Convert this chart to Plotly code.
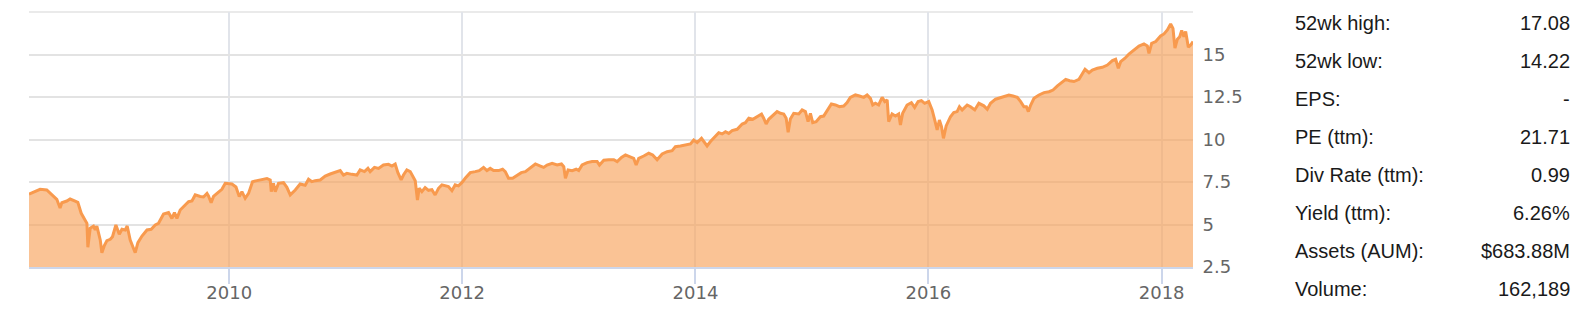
import datetime as dt
import plotly.graph_objects as go

# ---- data (decimal year, price) ----
years = [
    2008.283, 2008.378, 2008.435, 2008.478, 2008.521, 2008.549, 2008.564, 2008.607, 2008.635, 2008.678,
    2008.701, 2008.730, 2008.764, 2008.779, 2008.787, 2008.807, 2008.835, 2008.850, 2008.864, 2008.893,
    2008.907, 2008.927, 2008.950, 2008.979, 2008.998, 2009.027, 2009.056, 2009.079, 2009.107, 2009.124,
    2009.150, 2009.170, 2009.193, 2009.216, 2009.251, 2009.294, 2009.330, 2009.365, 2009.393, 2009.436,
    2009.479, 2009.508, 2009.530, 2009.551, 2009.579, 2009.622, 2009.651, 2009.680, 2009.708, 2009.751,
    2009.779, 2009.809, 2009.822, 2009.845, 2009.865, 2009.903, 2009.937, 2009.966,
    2010.023, 2010.058, 2010.086, 2010.109, 2010.137, 2010.166, 2010.200, 2010.238, 2010.281, 2010.324,
    2010.352, 2010.361, 2010.380, 2010.395, 2010.423, 2010.466, 2010.495, 2010.524, 2010.567, 2010.609,
    2010.652, 2010.681, 2010.710, 2010.738, 2010.781, 2010.824, 2010.867, 2010.910, 2010.953, 2010.981,
    2011.010, 2011.053, 2011.096, 2011.124, 2011.161, 2011.191, 2011.210, 2011.247, 2011.282, 2011.324,
    2011.367, 2011.397, 2011.425, 2011.448, 2011.476, 2011.496, 2011.525, 2011.554, 2011.597,
    2011.616, 2011.631, 2011.654, 2011.682, 2011.711, 2011.740, 2011.768, 2011.797, 2011.826, 2011.854,
    2011.882, 2011.912, 2011.940, 2011.968, 2011.997, 2012.026, 2012.069, 2012.112, 2012.146, 2012.183,
    2012.212, 2012.240, 2012.269, 2012.312, 2012.346, 2012.369, 2012.397, 2012.432, 2012.470, 2012.506,
    2012.541, 2012.584, 2012.627, 2012.670, 2012.698, 2012.727, 2012.770, 2012.813, 2012.850, 2012.870,
    2012.884, 2012.907, 2012.942, 2012.976, 2012.998, 2013.027, 2013.070, 2013.113, 2013.156, 2013.176,
    2013.213,
    2013.256, 2013.299, 2013.328, 2013.365, 2013.399, 2013.442, 2013.470, 2013.491, 2013.513, 2013.556,
    2013.599, 2013.633, 2013.671, 2013.714, 2013.757, 2013.800, 2013.828, 2013.871, 2013.914, 2013.957,
    2013.985, 2014.015, 2014.052, 2014.071, 2014.100, 2014.129, 2014.166, 2014.200, 2014.229, 2014.258,
    2014.286, 2014.315, 2014.358, 2014.401, 2014.429, 2014.458, 2014.492, 2014.530, 2014.567, 2014.586,
    2014.607, 2014.629, 2014.658, 2014.701, 2014.730, 2014.758, 2014.779, 2014.796, 2014.815, 2014.844,
    2014.887, 2014.916, 2014.944, 2014.967, 2014.987, 2015.007, 2015.036, 2015.073, 2015.101, 2015.131,
    2015.167, 2015.202, 2015.236, 2015.273, 2015.302, 2015.330, 2015.373, 2015.408, 2015.445, 2015.474,
    2015.502, 2015.522, 2015.545, 2015.573, 2015.603, 2015.625, 2015.646, 2015.659, 2015.688, 2015.717,
    2015.745, 2015.760, 2015.779, 2015.817, 2015.854, 2015.882, 2015.912, 2015.940, 2015.968, 2016.003,
    2016.032, 2016.054, 2016.075, 2016.094, 2016.112, 2016.129, 2016.152, 2016.189, 2016.217, 2016.246,
    2016.266, 2016.289, 2016.332, 2016.361, 2016.397, 2016.432, 2016.475,
    2016.504, 2016.532, 2016.575, 2016.618, 2016.655, 2016.689, 2016.724, 2016.761, 2016.790, 2016.818,
    2016.839, 2016.856, 2016.876, 2016.904, 2016.947, 2016.990, 2017.033, 2017.067, 2017.105, 2017.142,
    2017.176, 2017.210, 2017.247, 2017.290, 2017.319, 2017.342, 2017.376, 2017.405, 2017.448, 2017.491,
    2017.534, 2017.577, 2017.605, 2017.628, 2017.648, 2017.685, 2017.719, 2017.762, 2017.805, 2017.848,
    2017.877, 2017.891, 2017.914, 2017.949, 2017.991, 2018.020, 2018.049, 2018.077, 2018.097, 2018.114,
    2018.135, 2018.155, 2018.172, 2018.191, 2018.206, 2018.229, 2018.249, 2018.269,
]

prices = [
    6.79, 7.07, 7.03, 6.74, 6.48, 5.97, 6.28, 6.38, 6.50, 6.38,
    6.30, 5.66, 5.30, 5.07, 3.66, 4.78, 4.90, 4.68, 4.91, 4.09,
    3.34, 3.74, 4.05, 4.13, 4.28, 4.97, 4.42, 4.72, 4.68, 4.91,
    4.09, 3.74, 3.34, 3.93, 4.32, 4.68, 4.72, 4.97, 5.07, 5.62,
    5.70, 5.36, 5.70, 5.36, 5.85, 6.15, 6.34, 6.38, 6.74, 6.65,
    6.62, 6.83, 6.68, 6.28, 6.65, 6.87, 7.07, 7.42,
    7.38, 7.21, 6.64, 6.93, 6.54, 6.83, 7.52, 7.58, 7.66, 7.70,
    7.62, 6.93, 7.42, 6.93, 7.42, 7.46, 7.19, 6.74, 7.03, 7.38,
    7.31, 7.66, 7.52, 7.58, 7.62, 7.85, 7.97, 8.09, 8.17, 7.91,
    8.01, 7.95, 7.91, 8.21, 8.11, 8.30, 8.11, 8.36, 8.30, 8.50,
    8.54, 8.44, 8.56, 8.05, 7.62, 7.91, 8.21, 8.11, 7.57,
    6.44, 7.13, 6.93, 7.17, 7.01, 7.05, 6.74, 7.13, 7.33, 7.27,
    7.23, 6.99, 7.33, 7.27, 7.46, 7.72, 8.05, 8.11, 8.17, 8.36,
    8.17, 8.30, 8.17, 8.17, 8.25, 8.11, 7.72, 7.72, 7.91, 8.05,
    8.11, 8.36, 8.56, 8.44, 8.36, 8.50, 8.60, 8.50, 8.56, 8.40,
    7.72, 8.21, 8.17, 8.25, 8.17, 8.50, 8.64, 8.70, 8.70, 8.50,
    8.78,
    8.81, 8.81, 8.70, 8.95, 9.09, 8.99, 8.89, 8.50, 8.89, 9.03,
    9.19, 9.09, 8.81, 9.15, 9.28, 9.34, 9.58, 9.62, 9.68, 9.74,
    9.97, 9.82, 10.07, 9.88, 9.62, 9.88, 10.17, 10.40, 10.33, 10.46,
    10.36, 10.52, 10.60, 10.91, 10.99, 11.25, 11.19, 11.35, 11.50, 11.25,
    10.91, 11.19, 11.35, 11.64, 11.54, 11.50, 11.25, 10.43, 11.20, 11.54,
    11.50, 11.74, 11.64, 11.05, 11.54, 10.99, 11.05, 11.34, 11.38, 11.74,
    12.09, 12.03, 11.93, 11.97, 12.17, 12.48, 12.62, 12.56, 12.48, 12.62,
    12.42, 12.03, 12.13, 12.03, 12.48, 12.23, 12.33, 11.05, 11.50, 11.38,
    11.50, 10.85, 11.54, 12.03, 12.17, 11.89, 12.23, 12.29, 12.13, 12.23,
    11.74, 11.15, 10.56, 11.15, 10.76, 10.07, 10.80, 11.34, 11.58, 11.64,
    11.93, 11.74, 12.03, 11.93, 11.74, 12.13, 11.98,
    11.78, 12.13, 12.37, 12.48, 12.56, 12.62, 12.56, 12.48, 12.23, 11.93,
    11.93, 11.64, 12.03, 12.42, 12.62, 12.76, 12.81, 12.91, 13.15, 13.35,
    13.54, 13.46, 13.41, 13.54, 13.89, 14.13, 13.93, 14.09, 14.19, 14.25,
    14.38, 14.64, 14.72, 14.19, 14.58, 14.78, 15.03, 15.27, 15.50, 15.62,
    15.50, 15.07, 15.66, 15.76, 16.09, 16.21, 16.45, 16.80, 16.54, 15.37,
    15.90, 16.05, 16.41, 16.05, 16.35, 15.43, 15.56, 15.76,
]

y_tick_values = [2.5, 5, 7.5, 10, 12.5, 15]
y_range = [2.5, 17.5]

stat_labels = ["52wk high:", "52wk low:", "EPS:", "PE (ttm):", "Div Rate (ttm):",
               "Yield (ttm):", "Assets (AUM):", "Volume:"]
stat_values = ["17.08", "14.22", "-", "21.71", "0.99", "6.26%", "$683.88M", "162,189"]


def to_date(y):
    yr = int(y)
    start = dt.datetime(yr, 1, 1)
    end = dt.datetime(yr + 1, 1, 1)
    return start + (end - start) * (y - yr)


dates = [to_date(y) for y in years]

# ---- layout geometry (pixels) ----
W, H = 1590, 314
L, R, T, B = 29, 1193, 12, 267

fig = go.Figure()
fig.add_trace(go.Scatter(
    x=dates, y=prices, mode="lines",
    line=dict(color="#f89a4e", width=3),
    fill="tozeroy", fillcolor="rgba(247,163,92,0.65)",
    hoverinfo="skip", showlegend=False,
))

axis_font = dict(family="DejaVu Sans, Verdana, sans-serif", size=18, color="#666666")

fig.update_layout(
    width=W, height=H,
    margin=dict(l=L, r=W - R, t=T, b=H - B, pad=0, autoexpand=False),
    paper_bgcolor="white", plot_bgcolor="white",
    xaxis=dict(
        type="date",
        range=[dates[0], dates[-1]],
        tick0="2010-01-01", dtick="M24", tickformat="%Y",
        showgrid=True, gridcolor="#e1e4ea", gridwidth=1.5,
        showline=True, linecolor="#ccd6eb", linewidth=2,
        ticks="outside", ticklen=15, tickwidth=1.5, tickcolor="#ccd6eb",
        ticklabelstandoff=-7,
        tickfont=axis_font, automargin=False,
        zeroline=False, fixedrange=True,
    ),
    yaxis=dict(
        side="right",
        range=y_range,
        tickmode="array", tickvals=y_tick_values,
        showgrid=True, gridcolor="#e3e3e3", gridwidth=1.5,
        showline=False, zeroline=False,
        ticks="outside", ticklen=5, tickcolor="rgba(0,0,0,0)",
        tickfont=axis_font, automargin=False,
        fixedrange=True,
    ),
)

# top gridline (last grid line without label)
fig.add_shape(type="line", xref="x domain", yref="y domain",
              x0=0, x1=1, y0=1, y1=1,
              line=dict(color="#e3e3e3", width=1.5), layer="below")

# ---- stats table on the right ----
label_x_px, value_x_px = 1293, 1572
row0_px, row_step = 23.0, 38.0
pw, ph = R - L, B - T
for i, (lab, val) in enumerate(zip(stat_labels, stat_values)):
    ypx = row0_px + i * row_step
    yp = (B - ypx) / ph
    fig.add_annotation(text=lab, xref="paper", yref="paper",
                       x=(label_x_px - L) / pw, y=yp, xanchor="left", yanchor="middle",
                       showarrow=False,
                       font=dict(family="Liberation Sans, Arial, sans-serif", size=20, color="#1a1a1a"))
    fig.add_annotation(text=val, xref="paper", yref="paper",
                       x=(value_x_px - L) / pw, y=yp, xanchor="right", yanchor="middle",
                       showarrow=False,
                       font=dict(family="Liberation Sans, Arial, sans-serif", size=20, color="#1a1a1a"))

fig.write_html("out.html")
